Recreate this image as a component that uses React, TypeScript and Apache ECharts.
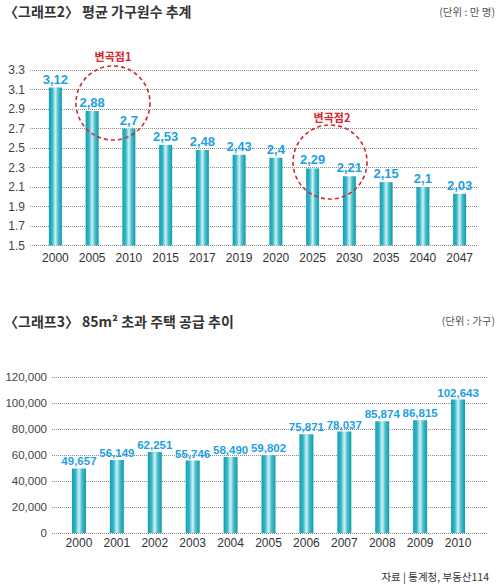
import React, { useEffect, useRef } from "react";
import * as echarts from "echarts";

// ---- data ----
const years1 = ["2000", "2005", "2010", "2015", "2017", "2019", "2020", "2025", "2030", "2035", "2040", "2047"];
const avgMembers = [3.12, 2.88, 2.7, 2.53, 2.48, 2.43, 2.4, 2.29, 2.21, 2.15, 2.1, 2.03];
const y1Min = 1.5;
const y1Max = 3.3;
const y1Step = 0.2;

const years2 = ["2000", "2001", "2002", "2003", "2004", "2005", "2006", "2007", "2008", "2009", "2010"];
const supply = [49657, 56149, 62251, 55746, 58490, 59802, 75871, 78037, 85874, 86815, 102643];
const y2Min = 0;
const y2Max = 120000;
const y2Step = 20000;

const title1 = "〈그래프2〉 평균 가구원수 추계";
const unit1 = "(단위 : 만 명)";
const title2 = "〈그래프3〉 85m² 초과 주택 공급 추이";
const unit2 = "(단위 : 가구)";
const source = "자료 | 통계청, 부동산114";
const note1 = "변곡점1";
const note2 = "변곡점2";

// ---- style ----
const NUM = '"Liberation Sans", Arial, sans-serif';
const KR = '"Noto Sans CJK KR", "Noto Sans", sans-serif';
const LABEL_BLUE = "#1d9fe4";
const RED = "#d6262e";

const barGradient = () =>
  new echarts.graphic.LinearGradient(0, 0, 1, 0, [
    { offset: 0, color: "#14a0b1" },
    { offset: 0.25, color: "#2fb5c4" },
    { offset: 0.5, color: "#d2f1f5" },
    { offset: 0.72, color: "#46bdca" },
    { offset: 1, color: "#1399a9" },
  ]);

const splitLine = { show: true, lineStyle: { type: "dotted" as const, color: "#8a8a8a", width: 1 } };

export default function App() {
  const ref = useRef<HTMLDivElement>(null);
  useEffect(() => {
    document.body.style.margin = "0";
    if (!ref.current) return;
    const chart = echarts.init(ref.current, undefined, { renderer: "svg" });

    const fmtThousands = (v: number) => v.toLocaleString("en-US");

    chart.setOption({
      animation: false,
      backgroundColor: "#ffffff",
      grid: [
        { left: 30, right: 22, top: 70, height: 175.5 },
        { left: 37, right: 22, top: 70, height: 175.5 },
        { left: 52, right: 13, top: 377, height: 156 },
        { left: 60, right: 23, top: 377, height: 156 },
      ],
      xAxis: [
        { gridIndex: 0, type: "category", data: years1, show: false },
        {
          gridIndex: 1,
          type: "category",
          data: years1,
          axisLine: { show: false },
          axisTick: { show: false },
          axisLabel: { interval: 0, color: "#333", fontFamily: NUM, fontSize: 12, margin: 6 },
        },
        { gridIndex: 2, type: "category", data: years2, show: false },
        {
          gridIndex: 3,
          type: "category",
          data: years2,
          axisLine: { show: false },
          axisTick: { show: false },
          axisLabel: { interval: 0, color: "#333", fontFamily: NUM, fontSize: 12, margin: 4 },
        },
      ],
      yAxis: [
        {
          gridIndex: 0,
          type: "value",
          min: y1Min,
          max: y1Max,
          interval: y1Step,
          splitLine,
          axisLine: { show: false },
          axisTick: { show: false },
          axisLabel: {
            color: "#444",
            fontFamily: NUM,
            fontSize: 12,
            margin: 5,
            formatter: (v: number) => v.toFixed(1),
          },
        },
        { gridIndex: 1, type: "value", min: y1Min, max: y1Max, interval: y1Step, show: false, splitLine: { show: false } },
        {
          gridIndex: 2,
          type: "value",
          min: y2Min,
          max: y2Max,
          interval: y2Step,
          splitLine,
          axisLine: { show: false },
          axisTick: { show: false },
          axisLabel: {
            color: "#444",
            fontFamily: NUM,
            fontSize: 11.5,
            margin: 5,
            formatter: (v: number) => fmtThousands(v),
          },
        },
        { gridIndex: 3, type: "value", min: y2Min, max: y2Max, interval: y2Step, show: false, splitLine: { show: false } },
      ],
      series: [
        {
          type: "bar",
          xAxisIndex: 1,
          yAxisIndex: 1,
          data: avgMembers,
          barWidth: 13,
          itemStyle: { color: barGradient() },
          label: {
            show: true,
            position: "top",
            distance: 2,
            color: LABEL_BLUE,
            fontFamily: NUM,
            fontWeight: "bold",
            fontSize: 13,
            formatter: (p: any) => String(p.value).replace(".", ","),
          },
        },
        {
          type: "bar",
          xAxisIndex: 3,
          yAxisIndex: 3,
          data: supply,
          barWidth: 14,
          itemStyle: { color: barGradient() },
          label: {
            show: true,
            position: "top",
            distance: 1,
            color: LABEL_BLUE,
            fontFamily: NUM,
            fontWeight: "bold",
            fontSize: 11.5,
            formatter: (p: any) => fmtThousands(p.value),
          },
        },
      ],
      graphic: [
        { type: "text", left: 4, top: 4, style: { text: title1, font: `bold 14px ${KR}`, fill: "#333" } },
        { type: "text", right: 5, top: 6, style: { text: unit1, font: `10.5px ${KR}`, fill: "#555" } },
        { type: "text", left: 4, top: 314, style: { text: title2, font: `bold 14px ${KR}`, fill: "#333" } },
        { type: "text", right: 5, top: 315, style: { text: unit2, font: `10.5px ${KR}`, fill: "#555" } },
        { type: "text", right: 11, top: 571, style: { text: source, font: `10.5px ${KR}`, fill: "#333" } },
        {
          type: "circle",
          shape: { cx: 113, cy: 103, r: 37 },
          style: { fill: "none", stroke: RED, lineWidth: 1.6, lineDash: [4, 3] },
          z: 10,
        },
        {
          type: "circle",
          shape: { cx: 330, cy: 162, r: 37 },
          style: { fill: "none", stroke: RED, lineWidth: 1.6, lineDash: [4, 3] },
          z: 10,
        },
        {
          type: "text",
          x: 113,
          y: 56,
          style: { text: note1, font: `bold 11px ${KR}`, fill: RED, align: "center", verticalAlign: "middle" },
          z: 10,
        },
        {
          type: "text",
          x: 332,
          y: 117,
          style: { text: note2, font: `bold 11px ${KR}`, fill: RED, align: "center", verticalAlign: "middle" },
          z: 10,
        },
      ],
    });
    return () => chart.dispose();
  }, []);
  return <div ref={ref} style={{ width: 500, height: 587 }} />;
}
